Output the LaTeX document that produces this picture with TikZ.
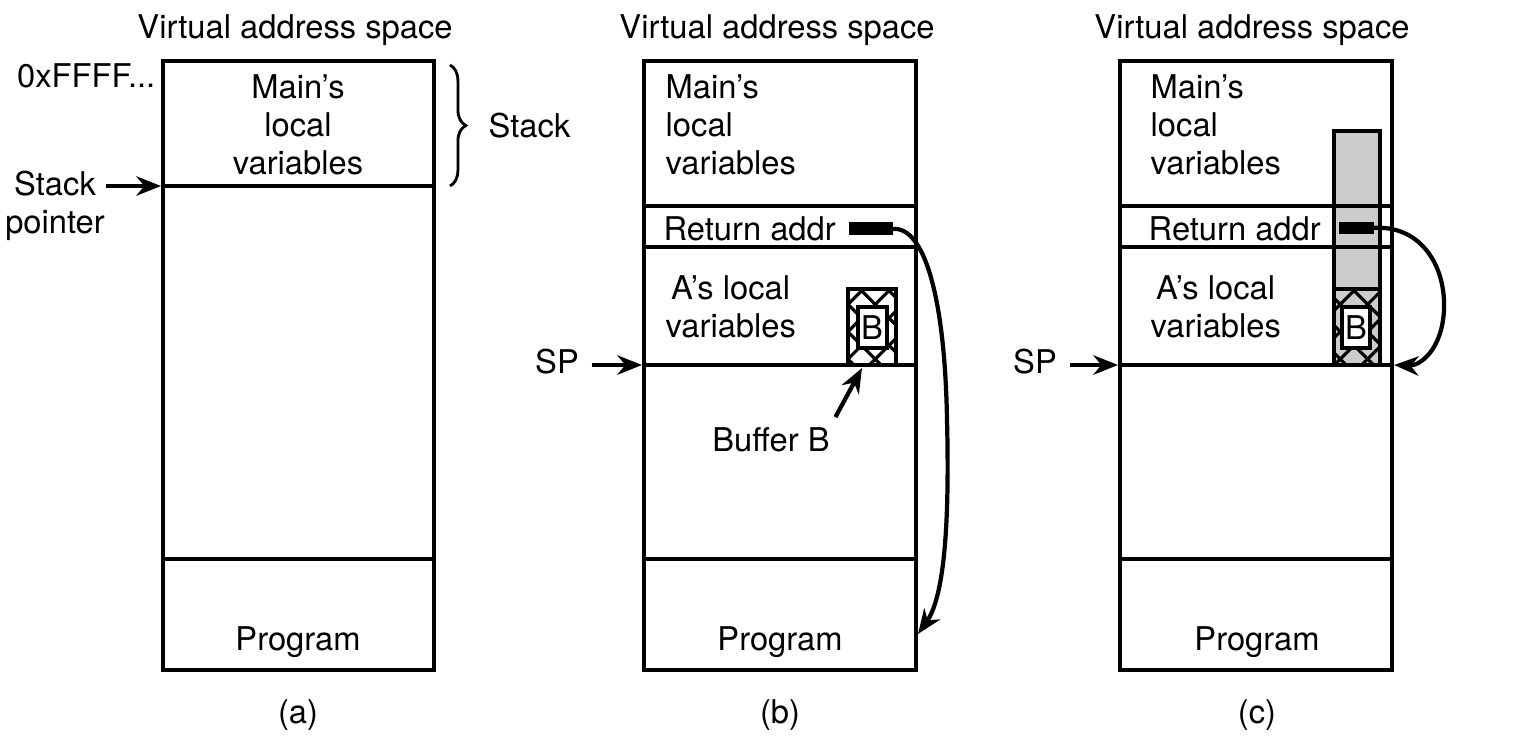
\documentclass[tikz,border=0pt]{standalone}
\usepackage{fontspec}
\setmainfont{TeX Gyre Heros}
\usetikzlibrary{arrows.meta,patterns.meta,decorations.pathreplacing,positioning}
\definecolor{bufgray}{RGB}{204,204,204}
\tikzset{
  memline/.style={line width=0.9pt},
  txt/.style={inner sep=0pt, font=\fontsize{9.3}{10.8}\selectfont},
  ptr/.style={line width=1.2pt,-{Stealth[length=7pt,width=5.5pt]}},
  hatchl/.style={pattern={Lines[angle=45,distance=5.5pt,line width=0.9pt]}},
  hatchr/.style={pattern={Lines[angle=-45,distance=5.5pt,line width=0.9pt]}}
}
\begin{document}
\begin{tikzpicture}[x=0.01cm,y=-0.01cm]
\useasboundingbox (0,0) rectangle (1533,742);
% (a)
\draw[memline] (163,61) rectangle (434,670);
\draw[memline] (163,186) -- (434,186) (163,559) -- (434,559);
\node[txt] (titleA) at (295,30) {Virtual address space};
\node[txt,align=center] (mainA) at (298,125) {Main's\\local\\variables};
\node[txt] (progA) at (298,642) {Program};
\node[txt,anchor=east] (topA) at (156,76) {0xFFFF...};
\node[txt,align=center] (spA) at (55,206) {Stack\\pointer};
\coordinate (spAfrom) at (106,186);
\coordinate (spAto) at (161,186);
\draw[ptr] (spAfrom) -- (spAto);
\coordinate (braceTop) at (450,65);
\coordinate (braceBot) at (450,186);
\draw[line width=0.8pt,decorate,decoration={brace,amplitude=4.5pt}] (braceTop) -- (braceBot);
\node[txt,anchor=west] (stackA) at (488,126) {Stack};
\node[txt] (capA) at (298,715) {(a)};
% (b)
\draw[memline] (644,61) rectangle (916,670);
\draw[memline] (644,206) -- (916,206) (644,247) -- (916,247)
  (644,365) -- (916,365) (644,559) -- (916,559);
\node[txt] (titleB) at (777,30) {Virtual address space};
\node[txt,align=left,anchor=west] (mainB) at (665,125) {Main's\\local\\variables};
\node[txt,anchor=west] (retB) at (663,229) {Return addr};
\node[txt,align=left,anchor=west] (localB) at (665,307) {\,A's local\\variables};
\node[txt] (progB) at (780,642) {Program};
\node[txt] (spB) at (557,362) {SP};
\coordinate (spBto) at (642,365);
\draw[ptr] (spB.east) ++(12,3) -- (spBto);
\fill[hatchl] (848,289) rectangle (896,365);
\fill[hatchr] (848,289) rectangle (896,365);
\draw[memline] (848,289) rectangle (896,365);
\draw[memline,fill=white] (858,307) rectangle (887,348);
\node[txt] (bufB) at (872,328) {B};
\fill (849,222) rectangle (893,235);
\coordinate (barB) at (892,229);
\coordinate (progBedge) at (918,634);
\draw[ptr] (barB) .. controls (925,225) and (945,300) .. (947,420)
  .. controls (950,540) and (942,600) .. (progBedge);
\node[txt] (bufname) at (771,440) {Buffer B};
\coordinate (bufBot) at (862,368);
\draw[ptr] (bufname.north east) ++(5,-10) -- (bufBot);
\node[txt] (capB) at (780,715) {(b)};
% (c)
\fill[bufgray] (1334,131) rectangle (1380,365);
\draw[memline] (1334,131) rectangle (1380,365);
\draw[memline] (1120,61) rectangle (1392,670);
\draw[memline] (1120,206) -- (1392,206) (1120,247) -- (1392,247)
  (1120,365) -- (1392,365) (1120,559) -- (1392,559);
\node[txt] (titleC) at (1252,30) {Virtual address space};
\node[txt,align=left,anchor=west] (mainC) at (1150,125) {Main's\\local\\variables};
\node[txt,anchor=west] (retC) at (1148,229) {Return addr};
\node[txt,align=left,anchor=west] (localC) at (1150,307) {\,A's local\\variables};
\node[txt] (progC) at (1257,642) {Program};
\node[txt] (spC) at (1035,362) {SP};
\coordinate (spCto) at (1118,365);
\draw[ptr] (spC.east) ++(12,3) -- (spCto);
\fill[hatchl] (1334,289) rectangle (1380,365);
\fill[hatchr] (1334,289) rectangle (1380,365);
\draw[memline] (1334,289) rectangle (1380,365);
\draw[memline,fill=white] (1342,307) rectangle (1370,348);
\node[txt] (bufC) at (1356,328) {B};
\fill (1339,222) rectangle (1374,234);
\coordinate (barC) at (1372,228);
\coordinate (retCedge) at (1394,365);
\draw[ptr] (barC) .. controls (1420,224) and (1446,265) .. (1444,310)
  .. controls (1442,350) and (1420,366) .. (retCedge);
\node[txt] (capC) at (1257,715) {(c)};
\end{tikzpicture}
\end{document}
